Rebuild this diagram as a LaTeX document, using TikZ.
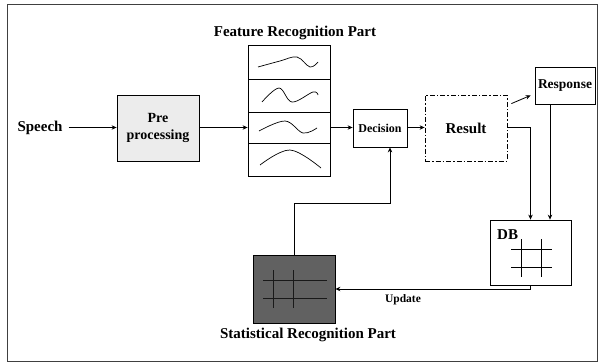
\documentclass[tikz,border=0pt]{standalone}
\usepackage{fontspec}
\setmainfont{Liberation Serif}
\usetikzlibrary{arrows.meta,calc}
\begin{document}
\begin{tikzpicture}[x=1pt,y=-1pt,
 box/.style={draw,line width=0.8pt,inner sep=0pt,anchor=center},
 arr/.style={line width=0.8pt,-{Stealth[length=5pt,width=4.5pt]}},
 ln/.style={line width=0.8pt},
 big/.style={font=\bfseries\fontsize{15}{17}\selectfont,inner sep=0pt},
 mid/.style={font=\bfseries\fontsize{14}{17}\selectfont,inner sep=0pt},
 sm/.style={font=\bfseries\fontsize{12}{14}\selectfont,inner sep=0pt},
 tiny/.style={font=\bfseries\fontsize{11.5}{13}\selectfont,inner sep=0pt},
 wave/.style={line width=0.7pt}]
\useasboundingbox (0,0) rectangle (598,364);
\draw[line width=0.8pt,black!75] (7,4) rectangle (597.5,361);

% nodes
\node[big] (speech) at (40,127.5) {Speech};
\node[box,mid,fill=gray!15,minimum width=82pt,minimum height=66pt,align=center] (pre) at (158,128) {Pre\\processing};
\node[big] (ftitle) at (295,33) {Feature Recognition Part};
\node[box,minimum width=82pt,minimum height=131pt] (feat) at (289,110.5) {};
\node[box,sm,minimum width=54pt,minimum height=38pt] (dec) at (380,128) {Decision};
\node[box,big,minimum width=82pt,minimum height=66pt,dash pattern=on 5pt off 2pt on 1.5pt off 2pt] (res) at (466,128) {Result};
\node[box,font=\bfseries\fontsize{13.5}{15}\selectfont,minimum width=60pt,minimum height=37pt] (resp) at (565,85.5) {Response};
\node[box,minimum width=81pt,minimum height=65pt] (db) at (530.5,252.5) {};
\node[big,anchor=west] (dbl) at (497,235) {DB};
\node[box,fill=black!62,minimum width=82pt,minimum height=68pt] (stat) at (294,289) {};
\node[big] (stitle) at (308,335) {Statistical Recognition Part};
\node[tiny] (upd) at (403,300) {Update};

% feature rows
\draw[ln] (248,79) -- (330,79);
\draw[ln] (248,112) -- (330,112);
\draw[ln] (248,143) -- (330,143);
\draw[wave] plot[smooth,tension=0.6] coordinates {(258,67) (280,61) (297,57) (310,67) (318,62)};
\draw[wave] plot[smooth,tension=0.6] coordinates {(262,102) (279,88) (292,102) (313,92) (318,95)};
\draw[wave] plot[smooth,tension=0.6] coordinates {(259,131) (285,121) (303,133) (317,128)};
\draw[wave] plot[smooth,tension=0.6] coordinates {(260,165) (290,150) (321,168)};

% DB grid
\draw[line width=0.9pt] (521,239) -- (521,277);
\draw[line width=0.9pt] (541,239) -- (541,277);
\draw[line width=0.9pt] (511,249) -- (552,249);
\draw[line width=0.9pt] (511,267) -- (552,267);

% statistical grid
\draw[line width=1pt,black!90] (273,270) -- (273,308);
\draw[line width=1pt,black!90] (293,270) -- (293,308);
\draw[line width=1pt,black!90] (263,280) -- (327,280);
\draw[line width=1pt,black!90] (263,298) -- (327,298);

% connectors
\draw[arr] ([xshift=6pt]speech.east) -- ([yshift=0.5pt]pre.west);
\draw[arr] ([yshift=0.5pt]pre.east) -- ([yshift=0.5pt]pre.east -| feat.west);
\draw[arr] ([yshift=0.5pt]pre.east -| feat.east) -- ([yshift=0.5pt]dec.west);
\draw[arr] ([yshift=0.5pt]dec.east) -- ([yshift=0.5pt]res.west);
\draw[arr] ([xshift=4pt,yshift=-9pt]res.north east) -- ([xshift=-4pt,yshift=9pt]resp.south west);
\draw[arr] ([yshift=0.5pt]res.east) -| (db.north);
\draw[arr] ([xshift=-15pt]resp.south) -- ([xshift=-15pt]resp.south |- db.north);
\draw[arr] (db.south) |- (stat.east);
\draw[arr] (stat.north) -- ++(0,-51) -| ([xshift=10pt]dec.south);
\end{tikzpicture}
\end{document}
